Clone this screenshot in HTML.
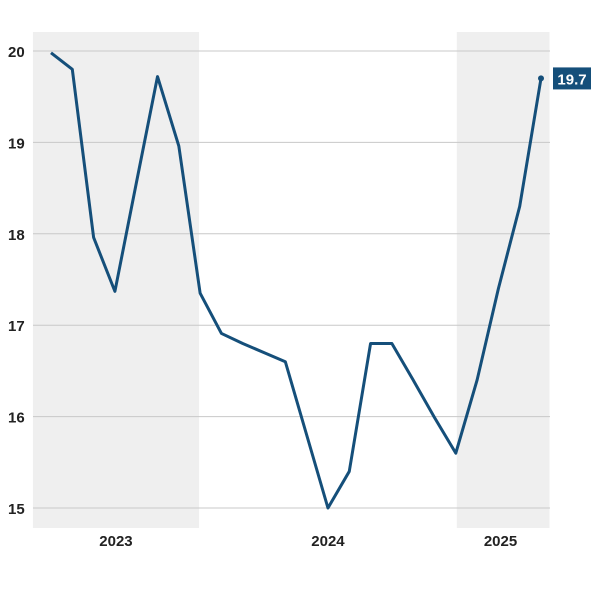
<!DOCTYPE html>
<html><head><meta charset="utf-8"><style>
body{margin:0;background:#fff;font-family:"Liberation Sans",sans-serif}
</style></head><body>
<svg id="chart" width="600" height="600" xmlns="http://www.w3.org/2000/svg"></svg>
<script>
const values=[19.98,19.8,17.96,17.37,18.55,19.72,18.96,17.35,16.91,16.8,16.7,16.6,15.8,15.0,15.4,16.8,16.8,16.4,15.99,15.6,16.4,17.4,18.3,19.7];
const yTicks=[15,16,17,18,19,20];
const yearLabels=["2023","2024","2025"];
const yearPos=[3.05,13,21.1];
const bands=[[-0.85,6.95],[19.05,23.4]];
const svg=document.getElementById('chart');
const NS='http://www.w3.org/2000/svg';
const x=i=>51+i*(490/23);
const y=v=>508-(v-15)*91.4;
function mk(t,a){const e=document.createElementNS(NS,t);for(const k in a)e.setAttribute(k,a[k]);svg.appendChild(e);return e;}
bands.forEach(b=>{
const r=mk('rect',{x:x(b[0]),y:32,width:x(b[1])-x(b[0]),height:496,fill:'#efefef'});


});
yTicks.forEach(t=>{
const l=mk('line',{x1:33,x2:550,y1:y(t),y2:y(t),stroke:'#c8c8c8','stroke-width':1});


const tx=mk('text',{x:8,y:y(t)+6,'font-size':15,'font-weight':'bold',fill:'#222'});
tx.textContent=t;


});
yearLabels.forEach((s,i)=>{
const tx=mk('text',{x:x(yearPos[i]),y:546,'font-size':15,'font-weight':'bold',fill:'#222','text-anchor':'middle'});
tx.textContent=s;


});
const p=mk('polyline',{points:values.map((v,i)=>x(i)+','+y(v)).join(' '),fill:'none',stroke:'#154f7a','stroke-width':3,'stroke-linejoin':'round'});


const li=values.length-1;
const d=mk('circle',{cx:x(li),cy:y(values[li]),r:3,fill:'#154f7a'});


const lb=mk('rect',{x:553,y:y(values[li])-11,width:38,height:22,fill:'#154f7a'});


const lt=mk('text',{x:572,y:y(values[li])+6,'font-size':15,'font-weight':'bold',fill:'#fff','text-anchor':'middle'});
lt.textContent=values[li].toFixed(1);


</script>
</body></html>
